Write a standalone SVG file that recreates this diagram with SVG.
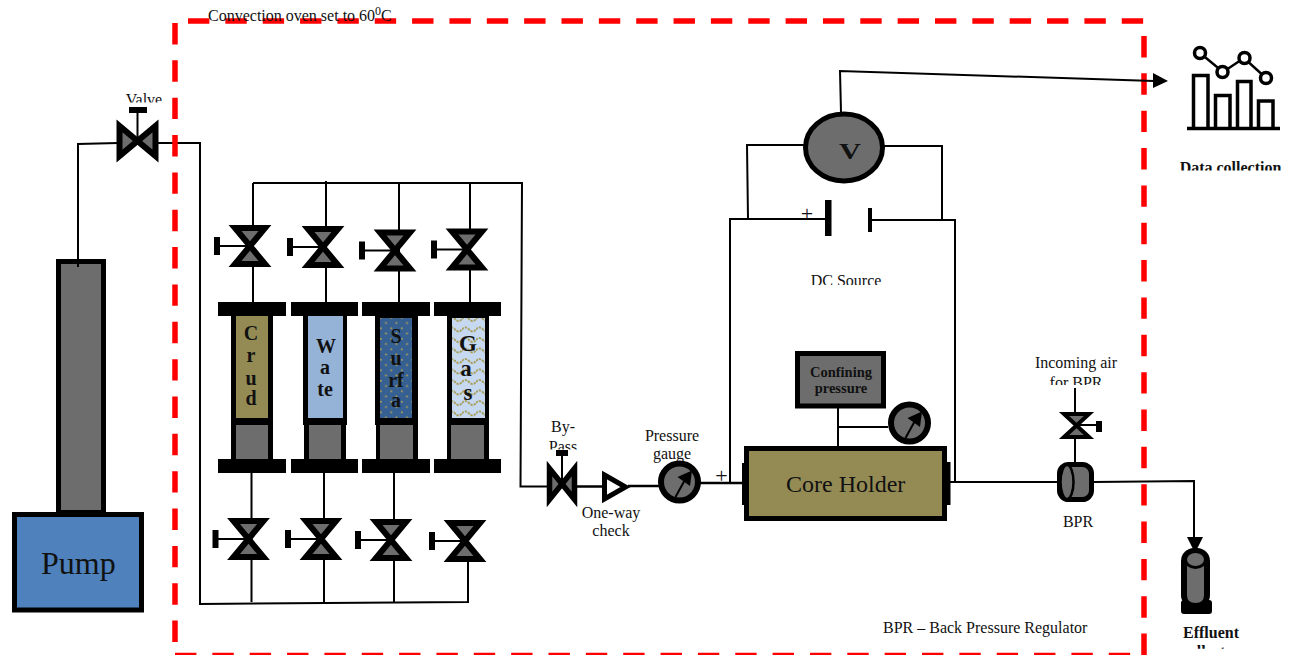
<svg xmlns="http://www.w3.org/2000/svg" width="1289" height="655" viewBox="0 0 1289 655">
<style>
.w{fill:none;stroke:#000;stroke-width:2;stroke-linejoin:miter}
.w3{fill:none;stroke:#000;stroke-width:2.5}
.k{fill:#000}
.g{fill:#6d6d6d;stroke:#000;stroke-width:5}
.v{fill:#6d6d6d;stroke:#000;stroke-width:6;stroke-miterlimit:6}
.gf{fill:#6d6d6d}
.oven{fill:none;stroke:#ff0000;stroke-width:5.5;stroke-dasharray:21.4 15.95}
text{font-family:"Liberation Serif","Times New Roman",serif;font-size:16px;fill:#111}
.m{text-anchor:middle}
.b{font-weight:bold}
.c{font-weight:bold;font-size:20px;text-anchor:middle;fill:#111}
.p{font-size:22px;text-anchor:middle}
</style>
<defs>
<pattern id="surfP" width="10.5" height="10.5" patternUnits="userSpaceOnUse"><rect width="10.5" height="10.5" fill="#366092"/><rect x="2" y="2" width="1.6" height="1.6" fill="#c4a94a"/><rect x="7.2" y="7.2" width="1.6" height="1.6" fill="#c4a94a"/></pattern>
<pattern id="gasP" width="14" height="10.5" patternUnits="userSpaceOnUse"><rect width="14" height="10.5" fill="#c6d9f1"/><path d="M0 4 Q3.500 0 7 4 T14 4" fill="none" stroke="#a39645" stroke-width="1.7" stroke-dasharray="2.4 1"/></pattern>
<polygon id="bow" class="v" points="-15,-18 15,-18 -15,18 15,18"/>
<g id="hv"><use href="#bow"/><path class="w" d="M-31 0H0"/><rect class="k" x="-36" y="-9" width="6" height="18"/></g>
<g id="gauge"><circle r="18.500" fill="#6d6d6d" stroke="#000" stroke-width="6"/><path class="w" d="M-4 15L7 -5"/><polygon class="k" points="12.500,-11.500 -2,-5 10.500,4"/></g>
<clipPath id="cValve"><rect x="100" y="85" width="90" height="17.500"/></clipPath>
<clipPath id="cPass"><rect x="530" y="435" width="60" height="14.500"/></clipPath>
<clipPath id="cDC"><rect x="790" y="265" width="110" height="20"/></clipPath>
<clipPath id="cAir"><rect x="1030" y="372" width="90" height="13"/></clipPath>
<clipPath id="cData"><rect x="1170" y="155" width="119" height="15.500"/></clipPath>
<clipPath id="cColl"><rect x="1170" y="642" width="90" height="6.800"/></clipPath>
</defs>

<g id="connectors">
<path class="w" d="M78 267V144L118 143M156 143H200V604L468 602V560"/>
<path class="w" d="M251.500 473V602M324 473V602M394 473V602"/>
<path class="w" d="M253 183H522L520.500 486.500H548"/>
<path class="w" d="M253 183V302M326 181V302M399 183V302M470 183V302"/>
<path class="w3" d="M576 486.500H603M628 486H660M700 483H743"/>
<path class="w" d="M730 483V219H825M872 220H955V482M748 219L747 145H805M884 146H942V220"/>
<path class="w" d="M838 408V446M838 427H888"/>
<path class="w" d="M950 482H1058M1093 482L1194 481V538M1075 388V463"/>
</g>

<g id="oven">
<path class="oven" d="M188 21H1145"/>
<path class="oven" d="M1144 36V655"/>
<path class="oven" d="M175 23V645"/>
<path class="oven" d="M175 655.500H1135"/>
</g>

<g id="data-wire">
<path class="w" d="M841 112L840 71L1154 81"/>
<polygon class="k" points="1153,73 1168,81 1153,88"/>
</g>

<g id="pump">
<rect class="g" x="58.500" y="261.500" width="45" height="251"/>
<path class="w" d="M78 259V267"/>
<rect x="14.500" y="514.500" width="127" height="95.500" fill="#4f81bd" stroke="#000" stroke-width="5"/>
<text x="41" y="574" style="font-size:32px">Pump</text>
</g>

<g id="main-valve">
<g transform="translate(137.500 141)"><use href="#bow" transform="rotate(90)"/><path class="w" d="M0 0V-30"/></g>
<rect class="k" x="129" y="107" width="18" height="6"/>
<text class="m" x="144" y="105" clip-path="url(#cValve)">Valve</text>
</g>

<g id="top-valves">
<use href="#hv" x="250" y="246"/>
<use href="#hv" x="323" y="247"/>
<use href="#hv" x="395" y="250.500"/>
<use href="#hv" x="467" y="249.500"/>
</g>
<g id="bottom-valves">
<use href="#hv" x="248.500" y="539"/>
<use href="#hv" x="321" y="539"/>
<use href="#hv" x="391" y="540"/>
<use href="#hv" x="465" y="541"/>
</g>

<g id="crude-cylinder">
<rect class="k" x="218" y="302" width="68" height="14"/><rect class="k" x="218" y="459" width="68" height="14"/>
<rect class="k" x="231" y="316" width="42" height="109"/><rect x="236" y="316" width="32" height="102" fill="#948b54"/>
<rect class="k" x="231" y="425" width="42" height="34"/><rect class="gf" x="236" y="425" width="32" height="34"/>
<text class="c"><tspan x="251" y="340">C</tspan><tspan x="251" y="362">r</tspan><tspan x="251" y="385">u</tspan><tspan x="251" y="405">d</tspan></text>
</g>
<g id="water-cylinder">
<rect class="k" x="291" y="302" width="67" height="14"/><rect class="k" x="291" y="459" width="67" height="14"/>
<rect class="k" x="303" y="316" width="44" height="109"/><rect x="308" y="316" width="35" height="102" fill="#95b3d7"/>
<rect class="k" x="304" y="425" width="42" height="34"/><rect class="gf" x="309" y="425" width="32" height="34"/>
<text class="c"><tspan x="326" y="353">W</tspan><tspan x="325" y="374">a</tspan><tspan x="325" y="396">te</tspan></text>
</g>
<g id="surfactant-cylinder">
<rect class="k" x="362" y="302" width="68" height="14"/><rect class="k" x="362" y="459" width="68" height="14"/>
<rect class="k" x="375" y="316" width="43" height="109"/><rect x="380" y="318" width="32" height="100" fill="url(#surfP)"/>
<rect class="k" x="376" y="425" width="42" height="34"/><rect class="gf" x="380" y="425" width="33" height="34"/>
<text class="c"><tspan x="396" y="343">S</tspan><tspan x="396" y="365">u</tspan><tspan x="396" y="387">rf</tspan><tspan x="396" y="407">a</tspan></text>
</g>
<g id="gas-cylinder">
<rect class="k" x="434" y="302" width="67" height="14"/><rect class="k" x="434" y="459" width="67" height="14"/>
<rect class="k" x="447" y="316" width="42" height="109"/><rect x="452" y="318" width="33" height="100" fill="url(#gasP)"/>
<rect class="k" x="447" y="425" width="42" height="34"/><rect class="gf" x="451" y="425" width="33" height="34"/>
<text class="c" style="font-size:23px"><tspan x="468" y="351">G</tspan><tspan x="466" y="376">a</tspan><tspan x="468" y="400">s</tspan></text>
</g>

<g id="bypass-valve">
<polygon class="v" points="549.500,468.500 549.500,499.500 574.500,468.500 574.500,499.500" style="stroke-width:5.500"/>
<path class="w" d="M562 456V484"/>
<rect class="k" x="556" y="450" width="12" height="6"/>
<text class="m" x="563" y="432">By-</text>
<text class="m" x="563" y="452" clip-path="url(#cPass)">Pass</text>
</g>

<g id="check-valve">
<polygon points="604.500,475 625.500,487 604.500,499" fill="#fff" stroke="#000" stroke-width="5" stroke-miterlimit="6"/>
<text class="m" x="611" y="518">One-way</text>
<text class="m" x="611" y="536">check</text>
</g>

<g id="pressure-gauge">
<text class="m" x="672" y="441">Pressure</text>
<text class="m" x="672" y="459">gauge</text>
<use href="#gauge" x="679.500" y="482"/>
<text class="p" x="721.500" y="483">+</text>
</g>

<g id="core-holder">
<rect x="746.500" y="448.500" width="198" height="70" fill="#948b54" stroke="#000" stroke-width="5"/>
<rect class="k" x="742" y="463" width="4" height="42"/><rect class="k" x="947" y="462" width="3.500" height="43"/>
<text x="786" y="492" style="font-size:24px">Core Holder</text>
</g>

<g id="confining-pressure">
<rect class="g" x="797.500" y="353.500" width="86" height="52.500"/>
<text class="m b" x="841" y="377" style="font-size:14.500px">Confining</text>
<text class="m b" x="841" y="393" style="font-size:14.500px">pressure</text>
</g>
<g id="confining-gauge"><use href="#gauge" x="909.500" y="423"/></g>

<g id="voltmeter">
<ellipse class="g" cx="844" cy="147.500" rx="38.500" ry="33.500"/>
<text class="m b" x="850" y="159" textLength="22" lengthAdjust="spacingAndGlyphs" style="font-size:23px">V</text>
</g>

<g id="dc-source">
<rect class="k" x="825" y="200" width="6.500" height="36"/>
<rect class="k" x="868" y="208" width="4" height="24"/>
<text class="p" x="807" y="221">+</text>
<text class="m" x="846" y="286" clip-path="url(#cDC)">DC Source</text>
</g>

<g id="air-valve">
<polygon class="v" style="stroke-width:4" points="-12.500,-11.500 12.500,-11.500 -12.500,11.500 12.500,11.500" transform="translate(1076.500 425.500)"/>
<path class="w" d="M1076 425H1097"/>
<rect class="k" x="1096" y="421" width="6" height="11"/>
<text class="m" x="1076" y="368">Incoming air</text>
<text class="m" x="1076" y="387.500" clip-path="url(#cAir)">for BPR</text>
</g>

<g id="bpr">
<rect class="g" x="1059.500" y="464.500" width="32" height="35" rx="9"/>
<ellipse cx="1067" cy="482" rx="6.500" ry="17" fill="#6d6d6d" stroke="#000" stroke-width="2.500"/>
<text class="m" x="1078" y="527">BPR</text>
</g>

<g id="effluent-collector">
<polygon class="k" points="1187,537 1203,537 1195,553"/>
<rect class="k" x="1181" y="548" width="29" height="60" rx="13"/>
<rect class="k" x="1181" y="600" width="31" height="14" rx="3"/>
<path class="gf" d="M1187 559H1204V595Q1204 603 1195.500 603Q1187 603 1187 595Z"/>
<ellipse cx="1195.500" cy="559.500" rx="10" ry="8" fill="#6d6d6d" stroke="#000" stroke-width="3"/>
<text class="m b" x="1211" y="638">Effluent</text>
<text class="m b" x="1211" y="657" clip-path="url(#cColl)">collector</text>
</g>

<g id="data-collection">
<path fill="none" stroke="#000" stroke-width="3.500" d="M1193.500 128V75.500H1208V128M1215.500 128V95.500H1230V128M1237.500 128V81.500H1251V128M1258.500 128V101H1273V128"/>
<path fill="none" stroke="#000" stroke-width="3.500" d="M1187 128.500H1280"/>
<path fill="none" stroke="#000" stroke-width="2.500" d="M1200 53L1223 72L1244 58L1266 78"/>
<g fill="#fff" stroke="#000" stroke-width="3.500"><circle cx="1200" cy="53" r="5.500"/><circle cx="1222.500" cy="72" r="5.500"/><circle cx="1244.500" cy="58" r="5.500"/><circle cx="1266" cy="78" r="5.500"/></g>
<text class="m b" x="1230.500" y="173" clip-path="url(#cData)">Data collection</text>
</g>

<g id="labels">
<text x="208" y="21">Convection oven set to 60<tspan dy="-6" style="font-size:12px">0</tspan><tspan dy="6">C</tspan></text>
<text x="883" y="633">BPR – Back Pressure Regulator</text>
</g>
</svg>
